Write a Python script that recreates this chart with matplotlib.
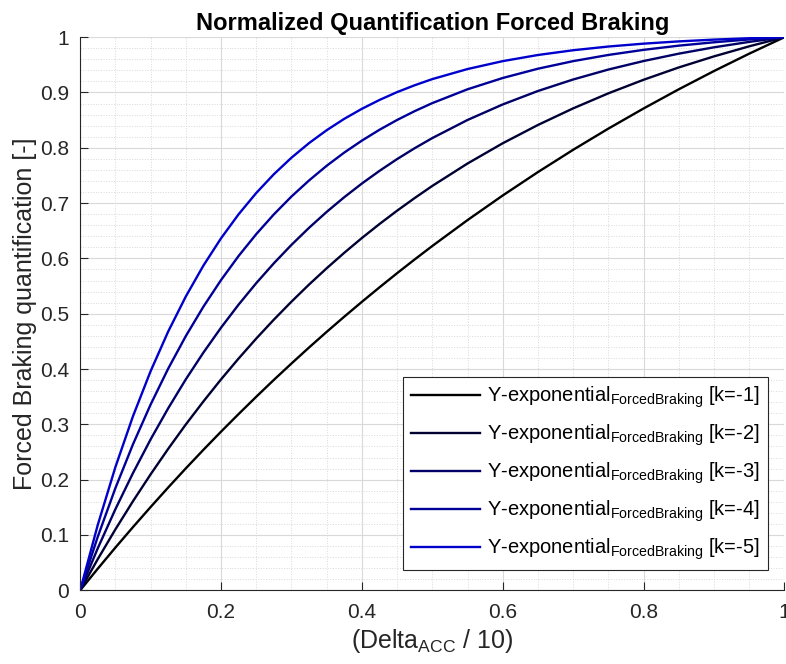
import matplotlib
matplotlib.use('Agg')
import matplotlib.pyplot as plt
from matplotlib.ticker import MultipleLocator

plt.rcParams['font.family'] = ['Liberation Sans', 'DejaVu Sans']
plt.rcParams['mathtext.fontset'] = 'custom'
plt.rcParams['mathtext.rm'] = 'Liberation Sans'

# x = Delta_ACC / 10
x = [0.0, 0.025, 0.05, 0.075, 0.1, 0.125, 0.15, 0.175, 0.2, 0.225, 0.25, 0.275,
     0.3, 0.325, 0.35, 0.375, 0.4, 0.425, 0.45, 0.475, 0.5,
     0.55, 0.6, 0.65, 0.7, 0.75, 0.8, 0.85, 0.9, 0.95, 1.0]

# values
y_k1 = [0.0, 0.0391, 0.0772, 0.1143, 0.1505, 0.1859, 0.2204, 0.2540, 0.2868, 0.3187, 0.3499, 0.3804,
        0.4100, 0.4390, 0.4672, 0.4947, 0.5215, 0.5477, 0.5733, 0.5982, 0.6225,
        0.6693, 0.7138, 0.7561, 0.7964, 0.8347, 0.8711, 0.9058, 0.9388, 0.9702, 1.0]
y_k2 = [0.0, 0.0564, 0.1101, 0.1611, 0.2096, 0.2558, 0.2998, 0.3415, 0.3813, 0.4191, 0.4551, 0.4893,
        0.5218, 0.5528, 0.5822, 0.6102, 0.6369, 0.6622, 0.6863, 0.7092, 0.7311,
        0.7716, 0.8082, 0.8413, 0.8713, 0.8985, 0.9230, 0.9453, 0.9653, 0.9835, 1.0]
y_k3 = [0.0, 0.0760, 0.1466, 0.2120, 0.2728, 0.3291, 0.3814, 0.4298, 0.4748, 0.5166, 0.5553, 0.5912,
        0.6245, 0.6554, 0.6841, 0.7107, 0.7354, 0.7583, 0.7796, 0.7993, 0.8176,
        0.8503, 0.8784, 0.9027, 0.9235, 0.9415, 0.9569, 0.9702, 0.9817, 0.9915, 1.0]
y_k4 = [0.0, 0.0969, 0.1847, 0.2640, 0.3358, 0.4008, 0.4596, 0.5128, 0.5609, 0.6045, 0.6439, 0.6796,
        0.7119, 0.7410, 0.7675, 0.7914, 0.8130, 0.8326, 0.8503, 0.8663, 0.8808,
        0.9058, 0.9262, 0.9430, 0.9567, 0.9679, 0.9771, 0.9847, 0.9908, 0.9959, 1.0]
y_k5 = [0.0, 0.1183, 0.2227, 0.3148, 0.3961, 0.4679, 0.5312, 0.5871, 0.6364, 0.6799, 0.7183, 0.7522,
        0.7821, 0.8085, 0.8318, 0.8524, 0.8705, 0.8865, 0.9007, 0.9131, 0.9242,
        0.9424, 0.9567, 0.9678, 0.9764, 0.9831, 0.9883, 0.9924, 0.9956, 0.9981, 1.0]

series = [y_k1, y_k2, y_k3, y_k4, y_k5]
k_labels = ['-1', '-2', '-3', '-4', '-5']
colors = ['#000000', '#000033', '#000066', '#000099', '#0000CC']

xticks = [0, 0.2, 0.4, 0.6, 0.8, 1]
xtick_labels = ['0', '0.2', '0.4', '0.6', '0.8', '1']
yticks = [0, 0.1, 0.2, 0.3, 0.4, 0.5, 0.6, 0.7, 0.8, 0.9, 1]
ytick_labels = ['0', '0.1', '0.2', '0.3', '0.4', '0.5', '0.6', '0.7', '0.8', '0.9', '1']

fig = plt.figure(figsize=(7.86, 6.64), dpi=100)
ax = fig.add_axes([0.102, 0.111, 0.896, 0.833])

for ys, k, c in zip(series, k_labels, colors):
    ax.plot(x, ys, color=c, lw=1.7, solid_joinstyle='round',
            label='Y-exponential$_\\mathregular{ForcedBraking}$ [k=' + k + ']')

ax.set_xlim(0, 1)
ax.set_ylim(0, 1)
ax.set_xticks(xticks)
ax.set_xticklabels(xtick_labels)
ax.set_yticks(yticks)
ax.set_yticklabels(ytick_labels)
ax.xaxis.set_minor_locator(MultipleLocator(0.05))
ax.yaxis.set_minor_locator(MultipleLocator(0.02))

ax.grid(True, which='major', color='#d9d9d9', lw=0.8, ls='-')
ax.grid(True, which='minor', color='#d9d9d9', lw=0.7, ls=':')
ax.set_axisbelow(True)

for s in ['top', 'right']:
    ax.spines[s].set_visible(False)
for s in ['left', 'bottom']:
    ax.spines[s].set_color('#262626')
ax.tick_params(which='both', direction='in', colors='#262626', labelsize=15)
ax.tick_params(axis='x', pad=9)
ax.tick_params(axis='y', pad=8)
ax.tick_params(which='major', length=6)
ax.tick_params(which='minor', length=0)

ax.set_title('Normalized Quantification Forced Braking', fontsize=17, fontweight='bold', pad=5)
ax.set_xlabel('(Delta$_\\mathregular{ACC}$ / 10)', fontsize=18, color='#262626', labelpad=4)
ax.set_ylabel('Forced Braking quantification [-]', fontsize=18, color='#262626', labelpad=2)

leg = ax.legend(loc='lower right', bbox_to_anchor=(0.976, 0.036), fontsize=14.5,
                fancybox=False, edgecolor='#262626', framealpha=1,
                handlelength=3.4, handletextpad=0.35, borderpad=0.4,
                labelspacing=0.62, borderaxespad=0)
leg.get_frame().set_linewidth(0.8)

fig.savefig('out.png', dpi=100)
